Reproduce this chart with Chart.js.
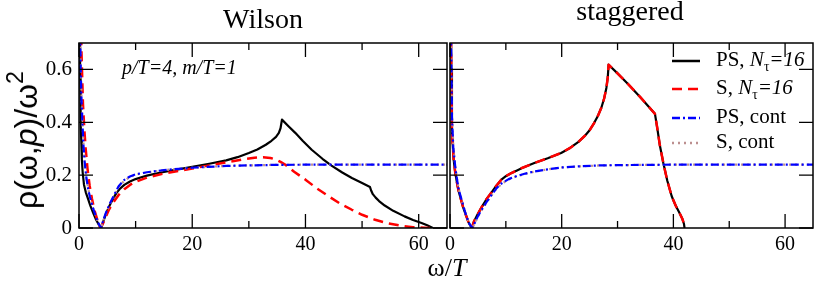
<!DOCTYPE html>
<html><head><meta charset="utf-8">
<script src="https://cdn.jsdelivr.net/npm/chart.js@4/dist/chart.umd.min.js"></script>
<style>
html,body{margin:0;padding:0;background:#fff;}
body{width:817px;height:284px;position:relative;overflow:hidden;font-family:"Liberation Serif",serif;color:#000;}
.wrap{position:absolute;top:0;height:284px;}
.t{position:absolute;white-space:nowrap;line-height:1;}
.leg{position:absolute;left:672px;width:150px;height:24px;}
.leg svg{position:absolute;left:0;top:0;}
.leg span{position:absolute;left:44px;top:0;font-size:21px;line-height:1;white-space:nowrap;}
sub{font-size:65%;vertical-align:-0.35em;line-height:0;}
</style></head><body>
<div class="wrap" style="left:0;width:452px"><canvas id="cL" width="452" height="284"></canvas></div>
<div class="wrap" style="left:440px;width:377px"><canvas id="cR" width="377" height="284"></canvas></div>

<div class="t" style="left:263px;top:5px;font-size:28px;transform:translateX(-50%)">Wilson</div>
<div class="t" style="left:630px;top:-3px;font-size:28px;transform:translateX(-50%)">staggered</div>
<div class="t" style="left:122px;top:57px;font-size:20px;font-style:italic">p/T=4, m/T=1</div>
<div class="t" style="left:447px;top:255px;font-size:26px;transform:translateX(-50%)">ω/<i>T</i></div>
<div class="t" style="left:26px;top:140px;font-size:32px;font-family:'Liberation Sans',sans-serif;transform:translate(-50%,-50%) rotate(-90deg)">ρ(ω,<i>p</i>)/ω<sup style="font-size:72%;vertical-align:0.6em;line-height:0">2</sup></div>

<div class="leg" style="top:49px"><svg width="30" height="24"><line x1="0" y1="12" x2="28" y2="12" stroke="#000" stroke-width="2.5"/></svg><span>PS, <i>N</i><sub>τ</sub><i>=16</i></span></div>
<div class="leg" style="top:77px"><svg width="30" height="24"><line x1="0" y1="12" x2="28" y2="12" stroke="#f00" stroke-width="2.5" stroke-dasharray="10,6"/></svg><span>S, <i>N</i><sub>τ</sub><i>=16</i></span></div>
<div class="leg" style="top:106px"><svg width="30" height="24"><line x1="0" y1="12" x2="28" y2="12" stroke="#00f" stroke-width="2.5" stroke-dasharray="8,3,2,3"/></svg><span>PS, cont</span></div>
<div class="leg" style="top:131px"><svg width="30" height="24"><line x1="0" y1="12" x2="28" y2="12" stroke="#bc8f8f" stroke-width="2.5" stroke-dasharray="2,4"/></svg><span>S, cont</span></div>

<script>
// ---------- data ----------
const xTicks = [0, 20, 40, 60];
const yTicks = [0, 0.2, 0.4, 0.6];

// Wilson panel
const wilsonPS_w = [0.12,0.2,0.25,0.32,0.4,0.5,0.65,0.88,1.2,1.6,2.0,2.5,3.0,3.5,3.9,4.3,4.8,5.4,6.0,6.6,7.3,8.0,9.0,10,11,12,14,17,20,23,26,28,30,31.5,33,34,34.8,35.3,35.6,35.85,37,38.2,39.5,41.1,43,44.6,46.5,48.2,50,51.4,51.6,51.9,52.4,53,54,55.5,57.5,59,60.5,61.5,62.5];
const wilsonPS_r = [0.9,0.6,0.48,0.4,0.33,0.26,0.21,0.164,0.135,0.11,0.085,0.057,0.032,0.012,0.0,0.025,0.055,0.085,0.11,0.132,0.15,0.163,0.176,0.185,0.192,0.198,0.208,0.22,0.231,0.243,0.256,0.268,0.284,0.297,0.315,0.33,0.345,0.36,0.378,0.41,0.385,0.36,0.33,0.296,0.262,0.236,0.21,0.189,0.17,0.155,0.142,0.128,0.115,0.102,0.085,0.065,0.044,0.03,0.019,0.01,0.0];
const wilsonS_w = [0.3,0.42,0.7,0.95,1.18,1.5,1.88,2.3,2.76,3.3,3.75,4.2,4.7,5.3,6,7,8,9,10,12,15,20,23,26.5,29,31,32.5,33.8,34.8,35.6,36.4,37.2,38,40,42,44.1,46,48.2,50,52.3,54.5,57,59,61,62];
const wilsonS_r = [0.85,0.68,0.47,0.37,0.3,0.225,0.16,0.11,0.065,0.027,0.0,0.015,0.04,0.07,0.095,0.125,0.147,0.163,0.175,0.191,0.206,0.225,0.237,0.25,0.26,0.266,0.268,0.265,0.259,0.25,0.24,0.227,0.213,0.183,0.15,0.12,0.094,0.069,0.05,0.031,0.018,0.008,0.003,0.001,0.0];
const wilsonPScont_w = [0.18,0.3,0.45,0.6,0.8,1.0,1.3,1.6,1.9,2.4,3.0,3.5,3.9,4.3,4.8,5.5,6.2,7,8,9,10,12,15,20,26,35,45,55,65];
const wilsonPScont_r = [0.8,0.6,0.48,0.4,0.31,0.25,0.19,0.15,0.12,0.08,0.042,0.015,0.0,0.03,0.06,0.095,0.125,0.158,0.182,0.195,0.203,0.211,0.219,0.228,0.235,0.239,0.24,0.24,0.24];
const wilsonScont_w = [0.2,0.32,0.47,0.62,0.82,1.02,1.32,1.62,1.92,2.42,3.0,3.5,3.9,4.3,4.8,5.5,6.2,7,8,9,10,12,15,20,26,35,45,55,65];
const wilsonScont_r = [0.8,0.6,0.48,0.4,0.31,0.25,0.19,0.15,0.12,0.08,0.042,0.015,0.0,0.028,0.057,0.092,0.122,0.155,0.179,0.193,0.202,0.21,0.219,0.228,0.235,0.239,0.24,0.24,0.24];

// staggered panel
const stagPS_w = [0.12,0.23,0.35,0.65,0.94,1.3,1.6,2.0,2.4,3.0,3.3,3.6,3.9,4.3,4.9,5.7,6.5,7.45,8.3,9.2,10,11,12,13,15.1,17.5,19.9,21.5,23,24.2,25,25.8,26.5,27.1,27.6,28.0,28.25,28.4,30,31.7,34,36.7,37.1,37.6,38.2,38.9,39.7,40.4,41.1,41.6,41.9,42.0];
const stagPS_r = [0.9,0.6,0.36,0.26,0.21,0.165,0.135,0.105,0.075,0.04,0.022,0.01,0.0,0.025,0.05,0.08,0.108,0.135,0.16,0.183,0.196,0.208,0.218,0.228,0.246,0.264,0.284,0.303,0.326,0.35,0.37,0.397,0.425,0.455,0.49,0.53,0.57,0.618,0.585,0.549,0.497,0.432,0.38,0.31,0.246,0.18,0.12,0.085,0.057,0.035,0.015,0.0];
const stagS_w = [0.12,0.23,0.35,0.65,0.94,1.3,1.6,2.0,2.4,3.0,3.3,3.6,3.9,4.3,4.9,5.7,6.5,7.45,8.3,9.2,10,11,12,13,15.1,17.5,19.9,21.5,23,24.2,25,25.8,26.5,27.1,27.6,28.0,28.25,28.4,30,31.7,34,36.7,37.1,37.6,38.2,38.9,39.7,40.4,41.1,41.6,41.9,42.0];
const stagS_r = [0.9,0.6,0.36,0.26,0.21,0.165,0.135,0.105,0.075,0.04,0.022,0.01,0.0,0.025,0.05,0.08,0.108,0.135,0.16,0.183,0.196,0.208,0.218,0.228,0.246,0.264,0.284,0.303,0.326,0.35,0.37,0.397,0.425,0.455,0.49,0.53,0.57,0.618,0.585,0.549,0.497,0.432,0.38,0.31,0.246,0.18,0.12,0.085,0.057,0.035,0.015,0.0];
const stagPScont_w = [0.15,0.35,0.6,1.0,1.5,1.9,2.5,3.0,3.5,4.0,4.5,5.0,5.7,6.5,7.5,8.3,9.2,10.5,12,13.5,15.1,17.5,19.9,23,27,35,45,55,65];
const stagPScont_r = [0.8,0.42,0.3,0.22,0.15,0.12,0.075,0.04,0.015,0.0,0.022,0.045,0.07,0.097,0.127,0.15,0.168,0.185,0.197,0.206,0.214,0.222,0.229,0.233,0.237,0.239,0.24,0.24,0.24];
const stagScont_w = [0.17,0.37,0.62,1.02,1.52,1.92,2.52,3.0,3.5,4.0,4.5,5.0,5.7,6.5,7.5,8.3,9.2,10.5,12,13.5,15.1,17.5,19.9,23,27,35,45,55,65];
const stagScont_r = [0.8,0.42,0.3,0.22,0.15,0.12,0.075,0.04,0.015,0.0,0.02,0.043,0.068,0.095,0.125,0.148,0.166,0.184,0.196,0.205,0.213,0.222,0.229,0.233,0.237,0.239,0.24,0.24,0.24];

// ---------- helpers ----------
const pts = (w, r) => w.map((v, i) => ({x: v, y: r[i]}));
const styles = {
  PS:     {borderColor:'#000', borderWidth:2.2, borderDash:[], order:4},
  S:      {borderColor:'#f00', borderWidth:2.5, borderDash:[10,6], order:3},
  Scont:  {borderColor:'#bc8f8f', borderWidth:2.2, borderDash:[2,4], order:2},
  PScont: {borderColor:'#00f', borderWidth:2.2, borderDash:[8,3,2,3], order:1}
};
function ds(key, w, r){
  return Object.assign({data: pts(w, r), pointRadius:0, fill:false, tension:0,
    borderJoinStyle:'round', borderCapStyle:'butt'}, styles[key]);
}

const frame = {
  id: 'frame',
  afterDatasetsDraw(chart){
    const {ctx, chartArea:a, scales:{x, y}} = chart;
    ctx.save();
    ctx.strokeStyle = '#000';
    ctx.lineWidth = 1.5;
    ctx.strokeRect(a.left, a.top, a.right - a.left, a.bottom - a.top);
    ctx.lineWidth = 1.3;
    ctx.beginPath();
    x.ticks.forEach(t => {
      const px = x.getPixelForValue(t.value);
      const L = (Math.round(t.value) % 20 === 0) ? 14 : 7;
      ctx.moveTo(px, a.bottom); ctx.lineTo(px, a.bottom - L);
      ctx.moveTo(px, a.top); ctx.lineTo(px, a.top + L);
    });
    y.ticks.forEach(t => {
      const py = y.getPixelForValue(t.value);
      const L = (Math.round(t.value * 10) % 2 === 0) ? 14 : 7;
      ctx.moveTo(a.left, py); ctx.lineTo(a.left + L, py);
      ctx.moveTo(a.right, py); ctx.lineTo(a.right - L, py);
    });
    ctx.stroke();
    ctx.restore();
  }
};

function makeChart(id, datasets, showLabels, yWidth, padding){
  return new Chart(document.getElementById(id), {
    type: 'line',
    data: {datasets},
    options: {
      responsive:false, animation:false, devicePixelRatio:1,
      layout:{padding},
      plugins:{legend:{display:false}, tooltip:{enabled:false}},
      scales:{
        x:{type:'linear', min:0, max:65,
           grid:{display:false, drawTicks:false}, border:{display:false},
           ticks:{stepSize:10, includeBounds:false, padding:5, color:'#000', maxRotation:0,
                  font:{family:'Liberation Serif', size:20},
                  callback:(v)=> xTicks.includes(Math.round(v)) && Math.abs(v-Math.round(v))<1e-6 ? String(Math.round(v)) : ''},
           afterFit:(s)=>{ s.height = 56; }},
        y:{type:'linear', min:0, max:0.7,
           grid:{display:false, drawTicks:false}, border:{display:false},
           ticks:{stepSize:0.1, includeBounds:false, padding:7, color:'#000',
                  font:{family:'Liberation Serif', size:21},
                  callback:(v)=>{ if(!showLabels) return ''; const r = Math.round(v*10)/10; return yTicks.includes(r) ? String(r) : ''; }},
           afterFit:(s)=>{ s.width = yWidth; }}
      }
    },
    plugins:[frame]
  });
}

makeChart('cL', [
  ds('PS', wilsonPS_w, wilsonPS_r),
  ds('S', wilsonS_w, wilsonS_r),
  ds('PScont', wilsonPScont_w, wilsonPScont_r),
  ds('Scont', wilsonScont_w, wilsonScont_r)
], true, 79, {left:0, right:5, top:43, bottom:0});

makeChart('cR', [
  ds('PS', stagPS_w, stagPS_r),
  ds('S', stagS_w, stagS_r),
  ds('PScont', stagPScont_w, stagPScont_r),
  ds('Scont', stagScont_w, stagScont_r)
], false, 7, {left:0, right:4, top:43, bottom:0});
</script>
</body></html>
